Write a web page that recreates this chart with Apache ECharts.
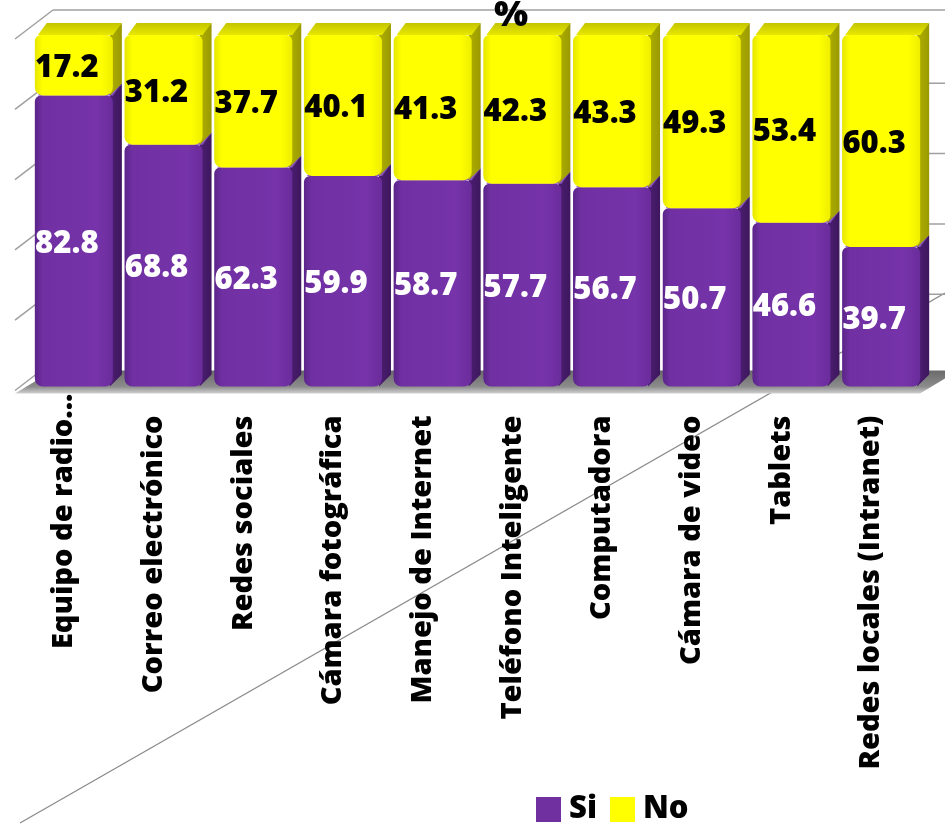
<!DOCTYPE html>
<html>
<head>
<meta charset="utf-8">
<script src="https://cdn.jsdelivr.net/npm/echarts@6/dist/echarts.min.js"></script>
<style>
html,body{margin:0;padding:0;background:#fff;}
#c{width:945px;height:825px;}
</style>
</head>
<body>
<div id="c"></div>
<script>
const categories = ["Equipo de radio...", "Correo electrónico", "Redes sociales", "Cámara fotográfica", "Manejo de Internet", "Teléfono Inteligente", "Computadora", "Cámara de video", "Tablets", "Redes locales (Intranet)"];
const siValues = [82.8, 68.8, 62.3, 59.9, 58.7, 57.7, 56.7, 50.7, 46.6, 39.7];
const noValues = [17.2, 31.2, 37.7, 40.1, 41.3, 42.3, 43.3, 49.3, 53.4, 60.3];
const seriesNames = ["Si", "No"];
const valueTicks = [0, 20, 40, 60, 80, 100];
const titleText = "%";

const FONT = '"Open Sans", Lato, sans-serif';
const chart = echarts.init(document.getElementById('c'), null, {renderer: 'canvas'});
const LG = echarts.graphic.LinearGradient;

const styles = {
  Si: {
    front: () => new LG(0, 0, 1, 0, [{offset: 0, color: '#5a2489'}, {offset: 0.1, color: '#7030a2'}, {offset: 0.8, color: '#7633aa'}, {offset: 1, color: '#6a2c9b'}]),
    side: () => new LG(0, 0, 1, 0, [{offset: 0, color: '#4c1e72'}, {offset: 1, color: '#3e175e'}]),
    top: () => new LG(0, 0, 0, 1, [{offset: 0, color: '#7a44ad'}, {offset: 1, color: '#8c55c0'}]),
    label: '#ffffff'
  },
  No: {
    front: () => new LG(0, 0, 1, 0, [{offset: 0, color: '#e6e600'}, {offset: 0.1, color: '#ffff00'}, {offset: 0.85, color: '#ffff00'}, {offset: 1, color: '#eeee00'}]),
    side: () => new LG(0, 0, 1, 0, [{offset: 0, color: '#b0b000'}, {offset: 1, color: '#9a9a00'}]),
    top: () => new LG(0, 0, 0, 1, [{offset: 0, color: '#c4c400'}, {offset: 1, color: '#e8e800'}]),
    label: '#000000'
  }
};

function makeRender(name) {
  const st = styles[name];
  return function (params, api) {
    const i = api.value(0), lo = api.value(1), hi = api.value(2), lab = api.value(3);
    const pT = api.coord([i, hi]);
    const pB = api.coord([i, lo]);
    const band = api.size([1, 0])[0];
    const w = band * 0.87;
    const cx = pT[0];
    const x0 = cx - w / 2, x1 = cx + w / 2;
    const yT = pT[1], yB = pB[1];
    const dx = 9, dy = 12;
    return {
      type: 'group',
      children: [
        {type: 'polygon', shape: {points: [[x1 - 3, yT], [x1 + dx, yT - dy], [x1 + dx, yB - dy], [x1 - 3, yB]]}, style: {fill: st.side()}},
        {type: 'polygon', shape: {points: [[x0 + 3, yT], [x0 + dx + 3, yT - dy], [x1 + dx, yT - dy], [x1, yT]]}, style: {fill: st.top()}},
        {type: 'rect', shape: {x: x0, y: yT, width: w, height: yB - yT, r: [6, 6, 8, 8]}, style: {fill: st.front()}},
        {type: 'text', style: {text: lab.toFixed(1), x: cx - 7, y: (yT + yB) / 2 + 3, align: 'center', verticalAlign: 'middle', fill: st.label, font: '800 31px ' + FONT}}
      ]
    };
  };
}

const siData = siValues.map((v, i) => [i, 0, v, v]);
const noData = noValues.map((v, i) => [i, siValues[i], siValues[i] + v, v]);

chart.setOption({
  animation: false,
  backgroundColor: '#ffffff',
  title: {
    text: titleText, left: 494, top: -2, padding: 0,
    textStyle: {fontFamily: FONT, fontWeight: 800, fontSize: 36, color: '#000'}
  },
  legend: {
    data: seriesNames, left: 536, top: 794, itemWidth: 25, itemHeight: 25, itemGap: 13, padding: 0,
    icon: 'rect',
    textStyle: {fontFamily: FONT, fontWeight: 800, fontSize: 31, color: '#000', padding: [0, 0, 0, 3]}
  },
  grid: {left: 29, right: 19, top: 35, bottom: 438.5},
  xAxis: {
    type: 'category', data: categories,
    axisLine: {show: false}, axisTick: {show: false},
    axisLabel: {
      rotate: 90, margin: 7, interval: 0,
      formatter: (val, idx) => idx === 0 ? '{a|' + val + '}' : '{b|' + val + '}',
      rich: {
        a: {fontFamily: FONT, fontWeight: 800, fontSize: 29, color: '#000', padding: [0, 0, 20, 0]},
        b: {fontFamily: FONT, fontWeight: 800, fontSize: 29, color: '#000', padding: [0, 22, 20, 0]}
      }
    }
  },
  yAxis: {
    type: 'value', min: 0, max: 100, interval: 20,
    axisLabel: {show: false}, axisLine: {show: false}, axisTick: {show: false}, splitLine: {show: false}
  },
  series: [
    {name: 'Si', type: 'custom', renderItem: makeRender('Si'), data: siData, encode: {x: 0, y: [1, 2]}, itemStyle: {color: '#7030a0'}, z: 3},
    {name: 'No', type: 'custom', renderItem: makeRender('No'), data: noData, encode: {x: 0, y: [1, 2]}, itemStyle: {color: '#ffff00'}, z: 3}
  ]
});

// decorative 3D wall / floor lines positioned from the value scale
const yf = v => chart.convertToPixel({yAxisIndex: 0}, v);
const W = 945;
const g = [];
const lineStyle = {stroke: '#a0a0a0', lineWidth: 1.5};
g.push({type: 'line', z: 0, shape: {x1: 20, y1: 823, x2: W, y2: 293}, style: {stroke: '#8a8a8a', lineWidth: 1.3}});
g.push({type: 'line', z: 0, shape: {x1: 53, y1: yf(100) - 25, x2: W, y2: yf(100) - 25}, style: lineStyle});
valueTicks.forEach(v => {
  g.push({type: 'line', z: 0, shape: {x1: 15, y1: yf(v) + 4, x2: 53, y2: yf(v) - 25}, style: lineStyle});
  if (v > 0 && v < 100) {
    g.push({type: 'line', z: 0, shape: {x1: 900, y1: yf(v) - 22, x2: W, y2: yf(v) - 22}, style: lineStyle});
  }
});
const y0 = yf(0);
g.push({type: 'polygon', z: 1, shape: {points: [[15, y0 + 7], [53, y0 - 16], [W, y0 - 16], [W, y0 - 8], [920, y0 + 7]]},
  style: {fill: new LG(0, 0, 0, 1, [{offset: 0, color: '#6a6a6a'}, {offset: 0.7, color: '#8c8c8c'}, {offset: 1, color: '#d0d0d0'}])}});
chart.setOption({graphic: g});
</script>
</body>
</html>
